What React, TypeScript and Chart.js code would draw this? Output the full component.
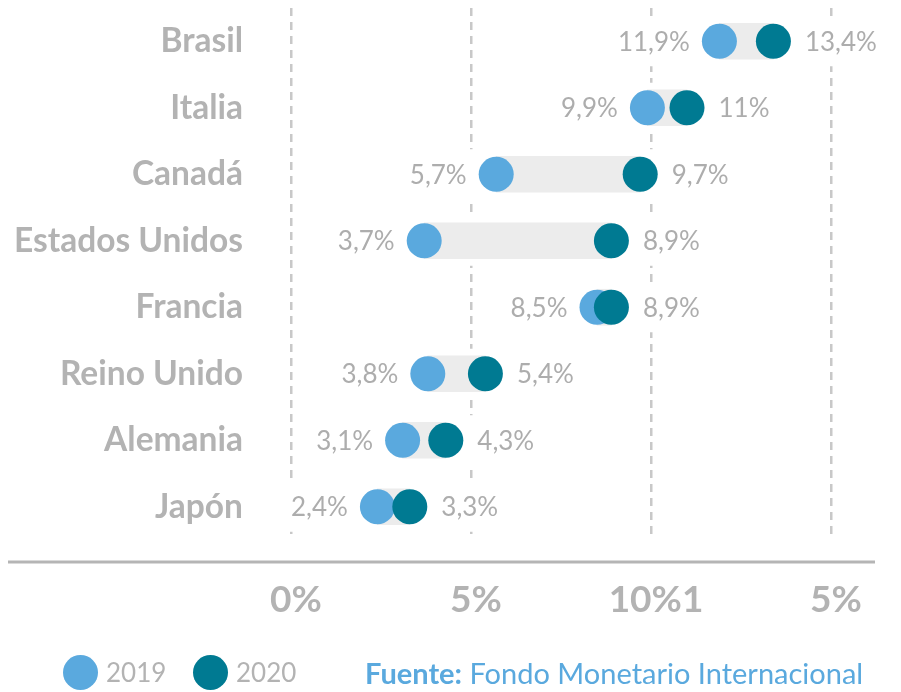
import { useEffect, useRef } from 'react';
import { Chart, registerables } from 'chart.js';

Chart.register(...registerables);

// ---- data ----
const categories = ['Brasil', 'Italia', 'Canadá', 'Estados Unidos', 'Francia', 'Reino Unido', 'Alemania', 'Japón'];
const values2019 = [11.9, 9.9, 5.7, 3.7, 8.5, 3.8, 3.1, 2.4];
const values2020 = [13.4, 11, 9.7, 8.9, 8.9, 5.4, 4.3, 3.3];
const xTickValues = [0, 5, 10, 15];
const xTickLabels = ['0%', '5%', '10%1', '5%'];
const seriesLabels = ['2019', '2020'];
const sourceLabel = 'Fuente:';
const sourceText = 'Fondo Monetario Internacional';

// ---- styles ----
const BLUE = '#5aa9de';
const TEAL = '#007a92';
const BAND = '#ececec';
const GRAY = '#b3b3b3';
const VALUE_GRAY = '#adadad';
const FONT = 'Lato, "Open Sans", sans-serif';
const R = 17.5;
const GAP = 12;

const fmt = (v: number) => String(v).replace('.', ',') + '%';

const decor = {
  id: 'dumbbellDecor',
  beforeDatasetsDraw(chart: any) {
    const { ctx, scales } = chart;
    const x = scales.x;
    const y = scales.y;
    ctx.save();
    ctx.font = `400 26px ${FONT}`;
    categories.forEach((_, i) => {
      const yc = y.getPixelForValue(i);
      const x1 = x.getPixelForValue(values2019[i]);
      const x2 = x.getPixelForValue(values2020[i]);
      const lw = ctx.measureText(fmt(values2019[i])).width;
      const rw = ctx.measureText(fmt(values2020[i])).width;
      const left = x1 - R - GAP - lw - 4;
      const right = x2 + R + GAP + rw + 4;
      ctx.fillStyle = '#ffffff';
      ctx.fillRect(left, yc - 25, right - left, 50);
    });
    ctx.restore();
  },
  afterDatasetsDraw(chart: any) {
    const { ctx, scales } = chart;
    const x = scales.x;
    const y = scales.y;
    ctx.save();
    ctx.font = `400 26px ${FONT}`;
    ctx.fillStyle = VALUE_GRAY;
    ctx.textBaseline = 'middle';
    categories.forEach((_, i) => {
      const yc = y.getPixelForValue(i) + 1;
      const x1 = x.getPixelForValue(values2019[i]);
      const x2 = x.getPixelForValue(values2020[i]);
      ctx.textAlign = 'right';
      ctx.fillText(fmt(values2019[i]), x1 - R - GAP, yc);
      ctx.textAlign = 'left';
      ctx.fillText(fmt(values2020[i]), x2 + R + GAP + 2, yc);
    });
    ctx.restore();
  },
  afterDraw(chart: any) {
    const { ctx, chartArea } = chart;
    ctx.save();
    ctx.strokeStyle = '#b5b5b5';
    ctx.lineWidth = 3;
    ctx.beginPath();
    const yl = chartArea.bottom + 22;
    ctx.moveTo(8, yl);
    ctx.lineTo(chart.width - 26, yl);
    ctx.stroke();
    ctx.restore();
  },
};

export default function App() {
  const canvasRef = useRef<HTMLCanvasElement>(null);

  useEffect(() => {
    document.body.style.margin = '0';
    const canvas = canvasRef.current;
    if (!canvas) return;
    const chart = new Chart(canvas, {
      type: 'bar',
      data: {
        labels: categories,
        datasets: [
          {
            type: 'bar',
            label: 'rango',
            data: categories.map((_, i) => [values2019[i], values2020[i]]) as any,
            backgroundColor: BAND,
            barThickness: 36,
            borderSkipped: false,
            borderWidth: 0,
            order: 3,
            indexAxis: 'y',
          } as any,
          {
            type: 'line',
            label: seriesLabels[0],
            data: values2019,
            showLine: false,
            pointRadius: R,
            pointHoverRadius: R,
            pointBackgroundColor: BLUE,
            pointBorderWidth: 0,
            borderWidth: 0,
            order: 2,
            indexAxis: 'y',
          } as any,
          {
            type: 'line',
            label: seriesLabels[1],
            data: values2020,
            showLine: false,
            pointRadius: R,
            pointHoverRadius: R,
            pointBackgroundColor: TEAL,
            pointBorderWidth: 0,
            borderWidth: 0,
            order: 1,
            indexAxis: 'y',
          } as any,
        ],
      },
      options: {
        indexAxis: 'y',
        animation: false,
        responsive: false,
        maintainAspectRatio: false,
        events: [],
        layout: { autoPadding: false, padding: { top: 8, right: 70, bottom: 72, left: 0 } },
        plugins: { legend: { display: false }, tooltip: { enabled: false } },
        scales: {
          x: {
            type: 'linear',
            min: 0,
            max: 15,
            afterBuildTicks: (s: any) => {
              s.ticks = xTickValues.map((v) => ({ value: v }));
            },
            afterFit: (s: any) => {
              s.height = 80;
              s.paddingLeft = 0;
              s.paddingRight = 0;
            },
            ticks: {
              callback: (v: any) => xTickLabels[xTickValues.indexOf(Number(v))],
              font: { family: FONT, size: 37, weight: 'bold' },
              color: GRAY,
              padding: 38,
              labelOffset: 5,
              maxRotation: 0,
              autoSkip: false,
            },
            grid: { color: '#c8c8c8', lineWidth: 2.5, drawTicks: false },
            border: { display: false, dash: [8, 6] },
          },
          y: {
            type: 'category',
            afterFit: (s: any) => {
              s.width = 291;
              s.paddingTop = 0;
              s.paddingBottom = 0;
            },
            ticks: {
              font: { family: FONT, size: 33.5, weight: 'bold' },
              color: GRAY,
              padding: 48,
            },
            grid: { display: false, drawTicks: false },
            border: { display: false },
          },
        } as any,
      },
      plugins: [decor],
    } as any);
    return () => chart.destroy();
  }, []);

  const legendText: any = {
    position: 'absolute',
    top: 655,
    height: 35,
    lineHeight: '35px',
    fontFamily: FONT,
    fontSize: 26,
    color: GRAY,
    whiteSpace: 'nowrap',
  };
  const dot = (left: number, color: string): any => ({
    position: 'absolute',
    left,
    top: 655,
    width: 35,
    height: 35,
    borderRadius: '50%',
    background: color,
  });

  return (
    <div style={{ position: 'relative', width: 901, height: 692, background: '#fff', overflow: 'hidden' }}>
      <canvas ref={canvasRef} width={901} height={692} style={{ position: 'absolute', left: 0, top: 0 }} />
      <div style={dot(63, BLUE)} />
      <div style={{ ...legendText, left: 106 }}>{seriesLabels[0]}</div>
      <div style={dot(193, TEAL)} />
      <div style={{ ...legendText, left: 236 }}>{seriesLabels[1]}</div>
      <div style={{ ...legendText, left: 365, color: BLUE, fontSize: 29 }}>
        <b>{sourceLabel}</b> {sourceText}
      </div>
    </div>
  );
}
